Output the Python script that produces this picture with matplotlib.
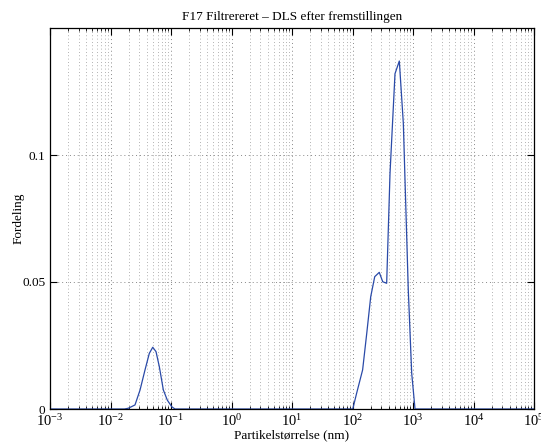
import matplotlib
matplotlib.use("Agg")
import matplotlib.pyplot as plt
from matplotlib.ticker import LogLocator, LogFormatterMathtext, NullFormatter

plt.rcParams['font.family'] = ['Liberation Serif', 'DejaVu Serif']
plt.rcParams['mathtext.fontset'] = 'stix'

# particle size (nm) and distribution
size_nm = [0.017, 0.0197, 0.0254, 0.0308, 0.0372, 0.0438, 0.0499, 0.0565,
           0.0641, 0.0747, 0.0869, 0.1028, 0.1164, 0.14,
           85, 101, 117, 147, 172, 200, 233, 277, 316, 367, 417, 504, 594,
           692, 836, 952, 1080, 1200]
fordeling = [0, 0.0003, 0.0016, 0.0075, 0.0154, 0.0219, 0.0243, 0.0226,
             0.0167, 0.0075, 0.0035, 0.0009, 0, 0,
             0, 0, 0.0062, 0.0154, 0.0298, 0.0442, 0.0521, 0.0538, 0.0501,
             0.0495, 0.0928, 0.132, 0.137, 0.1125, 0.0468, 0.014, 0, 0]

x_line = [1e-3] + size_nm + [1e5]
y_line = [0] + fordeling + [0]

fig = plt.figure(figsize=(5.41, 4.43), dpi=100)
ax = fig.add_axes([50 / 541, 1 - 409 / 443, 484 / 541, 381 / 443])

ax.plot(x_line, y_line, color='#2a4aa8', lw=0.9)

ax.set_xscale('log')
ax.set_xlim(1e-3, 1e5)
ax.set_ylim(0, 0.15)
ax.set_yticks([0, 0.05, 0.1])
ax.set_yticklabels(['0', '0.05', '0.1'])
ax.xaxis.set_major_locator(LogLocator(base=10, numticks=20))
ax.xaxis.set_major_formatter(LogFormatterMathtext())
ax.xaxis.set_minor_locator(LogLocator(base=10, subs=range(2, 10), numticks=20))
ax.xaxis.set_minor_formatter(NullFormatter())

ax.grid(True, which='major', ls=(0, (1, 3)), color='#888888', lw=0.7)
ax.grid(True, which='minor', axis='x', ls=(0, (1, 3)), color='#999999', lw=0.6)

ax.tick_params(which='both', direction='in', top=True, right=True, labelsize=9.5)
ax.tick_params(axis='x', which='major', labelsize=10.5, pad=3)
ax.tick_params(which='major', length=5)
ax.tick_params(which='minor', length=2.5)
for s in ax.spines.values():
    s.set_linewidth(0.9)

ax.set_title('F17 Filtrereret – DLS efter fremstillingen', fontsize=9.5)
ax.set_xlabel('Partikelstørrelse (nm)', fontsize=9.5, labelpad=0)
ax.set_ylabel('Fordeling', fontsize=9.5, labelpad=-2)

fig.savefig('out.png', dpi=100)
